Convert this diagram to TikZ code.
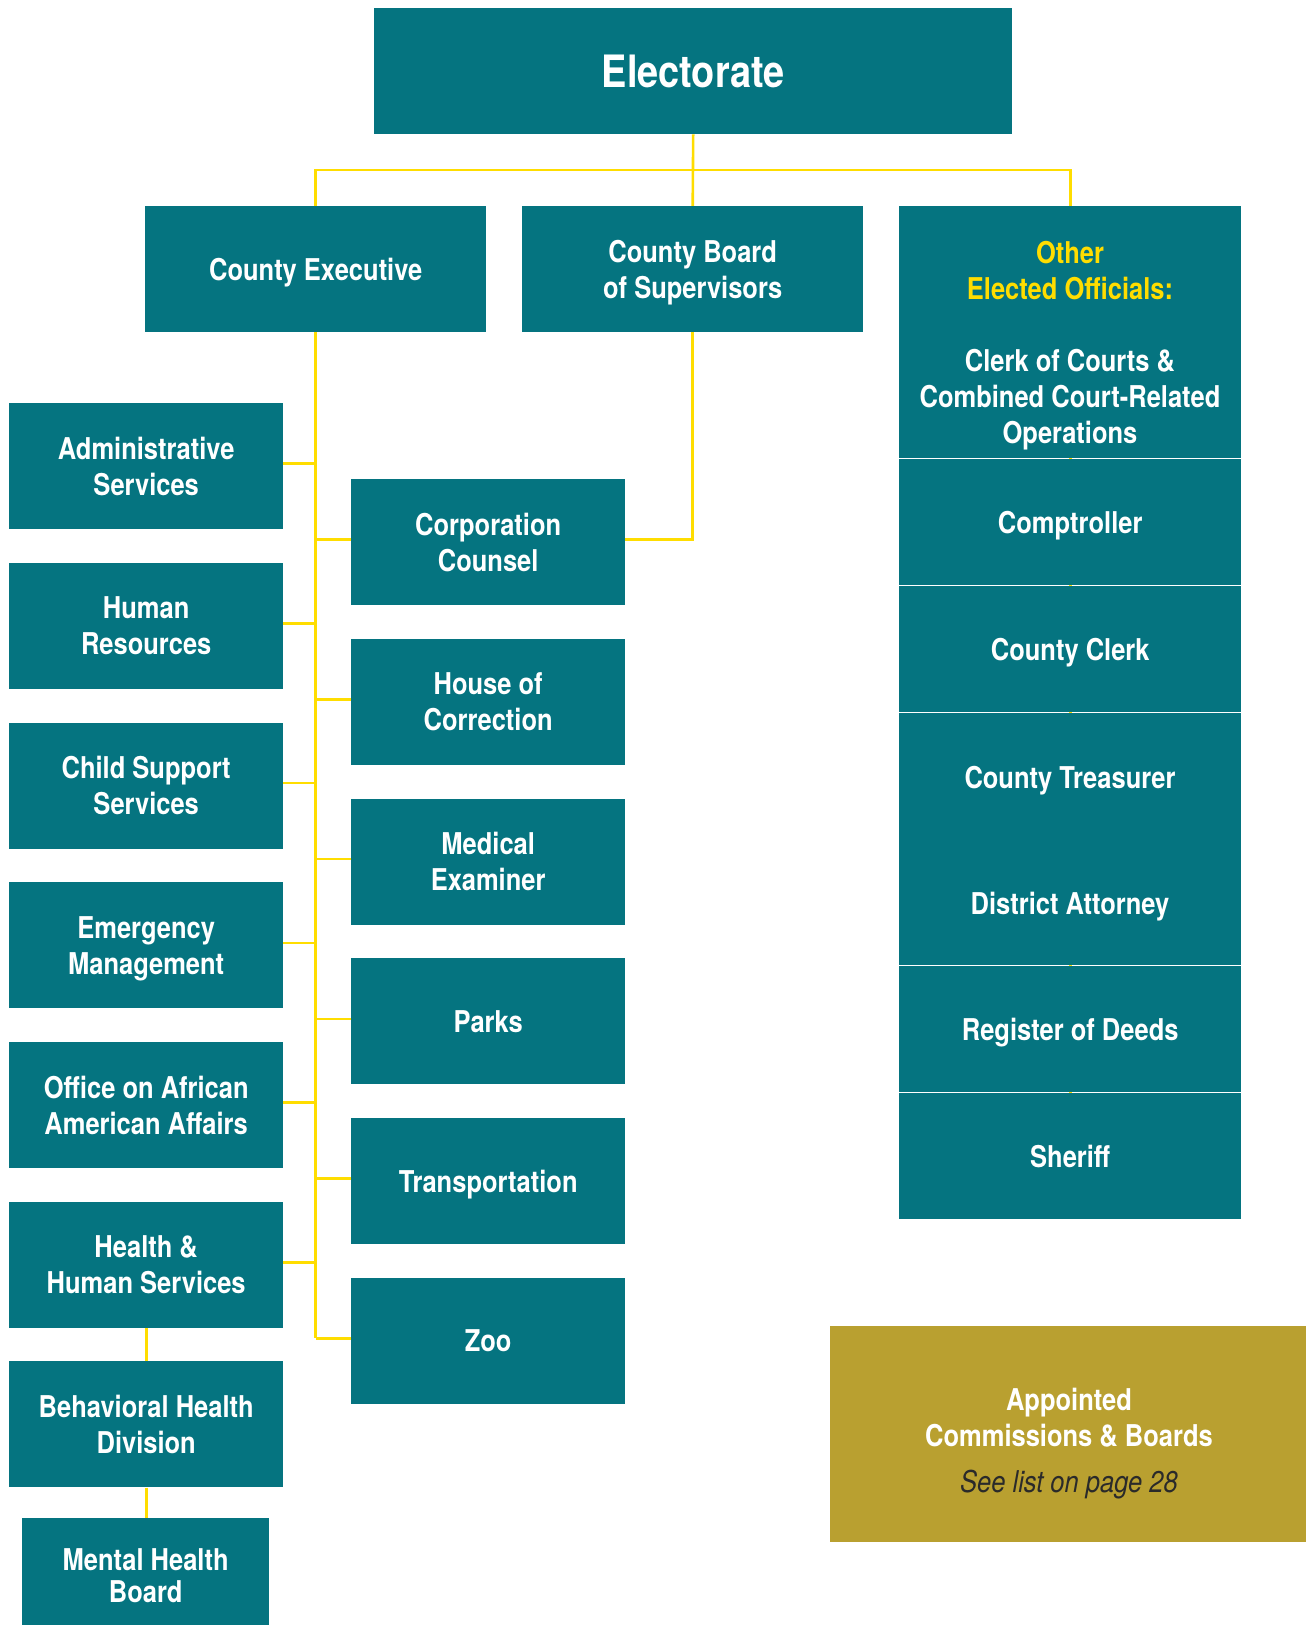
\documentclass[tikz,border=0pt]{standalone}
\usepackage{fontspec}
\setmainfont{TeX Gyre Heros}[FakeStretch=0.85]

\definecolor{orgteal}{HTML}{057480}
\definecolor{orgline}{HTML}{FFDD00}
\definecolor{orgtitle}{HTML}{FFDD00}
\definecolor{orggold}{HTML}{B9A030}
\definecolor{orgnote}{HTML}{2A2A2A}

\pgfdeclarelayer{paper}
\pgfdeclarelayer{links}
\pgfsetlayers{paper,links,main}

\newcommand\unitfont{\fontsize{30}{36}\selectfont\bfseries}
\newcommand\headfont{\fontsize{44.6}{50}\selectfont\bfseries}

\tikzset{
  box/.style 2 args={fill=orgteal, draw=none, inner sep=0pt, anchor=north west,
    minimum width=#1pt, minimum height=#2pt, text=white, font=\unitfont,
    align=center, text depth=0pt},
  unitbox/.style={box={274}{126}},
  topbox/.style={box={341}{126}},
  colbox/.style={box={342}{#1}},
  caption/.style={inner sep=0pt, text=white, font=\unitfont, align=center, text depth=0pt},
  link/.style={draw=orgline, line width=2.6pt},
}

\begin{document}
\begin{tikzpicture}[x=1pt,y=-1pt]
\clip (0,0) rectangle (1306,1625);
\begin{pgfonlayer}{paper}
  \fill[white] (0,0) rectangle (1306,1625);
\end{pgfonlayer}

% top level
\node[box={638}{126}, font=\headfont] (elect) at (374,8) {Electorate};
\node[topbox] (ce) at (145,206) {County Executive};
\node[topbox] (cb) at (522,206) {County Board\\of Supervisors};

% departments under the County Executive, left column
\node[unitbox] (admin) at (9,403)    {Administrative\\Services};
\node[unitbox] (hr)    at (9,562.7)  {Human\\Resources};
\node[unitbox] (css)   at (9,722.4)  {Child Support\\Services};
\node[unitbox] (em)    at (9,882.1)  {Emergency\\Management};
\node[unitbox] (oaaa)  at (9,1041.8) {Office on African\\American Affairs};
\node[unitbox] (hhs)   at (9,1201.5) {Health \&\\Human Services};
\node[unitbox] (bhd)   at (9,1361.2) {Behavioral Health\\Division};
\node[box={247}{114}, font=\fontsize{30}{32}\selectfont\bfseries] (mhb) at (22,1518) {Mental Health\\Board};

% departments under the County Executive, middle column
\node[unitbox] (corp)  at (351,479)    {Corporation\\Counsel};
\node[unitbox] (hoc)   at (351,638.7)  {House of\\Correction};
\node[unitbox] (me)    at (351,798.4)  {Medical\\Examiner};
\node[unitbox] (parks) at (351,958.1)  {Parks};
\node[unitbox] (trans) at (351,1117.8) {Transportation};
\node[unitbox] (zoo)   at (351,1277.5) {Zoo};

% other elected officials column
\node[colbox={251.5}] (oeo)   at (899,206)   {};
\node[colbox={126.5}] (compt) at (899,458.5) {Comptroller};
\node[colbox={125.5}] (clerk) at (899,586)   {County Clerk};
\node[colbox={252}]   (tada)  at (899,712.5) {};
\node[colbox={126.5}] (rod)   at (899,965.5) {Register of Deeds};
\node[colbox={125.5}] (sher)  at (899,1093)  {Sheriff};

\node[caption] (oeotext) at (1070,342.6)
  {\textcolor{orgtitle}{Other}\\\textcolor{orgtitle}{Elected Officials:}\\[36pt]
   Clerk of Courts \&\\Combined Court-Related\\Operations};
\node[caption] (treas) at (1070,777) {County Treasurer};
\node[caption] (da)    at (1070,903) {District Attorney};

% appointed bodies
\node[box={476}{216}, fill=orggold] (acb) at (830,1326) {};
\node[caption] (acbtext) at (1069,1440.8)
  {Appointed\\Commissions \& Boards\\[10pt]
   {\mdseries\itshape\color{orgnote}See list on page 28}};

% connectors
\begin{pgfonlayer}{links}
  \draw[link] (elect.south) -- (cb.north);
  \draw[link] (ce.north) -- ++(0,-36) -| (sher.center);
  \draw[link] (ce.south) -- ([yshift=2.5pt]ce.south |- zoo.west);
  \draw[link] (cb.south) |- ([yshift=2.5pt]corp.east);
  \foreach \n in {admin,hr,css,em,oaaa,hhs}
    \draw[link] ([yshift=2.5pt]\n.east) -- ([yshift=2.5pt]\n.east -| ce.south);
  \foreach \n in {corp,hoc,me,parks,trans,zoo}
    \draw[link] ([yshift=2.5pt]\n.west) -- ([yshift=2.5pt]\n.west -| ce.south);
  \draw[link] (hhs.south) -- (bhd.north);
  \draw[link] (bhd.south) -- (bhd.south |- mhb.north);
\end{pgfonlayer}
\end{tikzpicture}
\end{document}
